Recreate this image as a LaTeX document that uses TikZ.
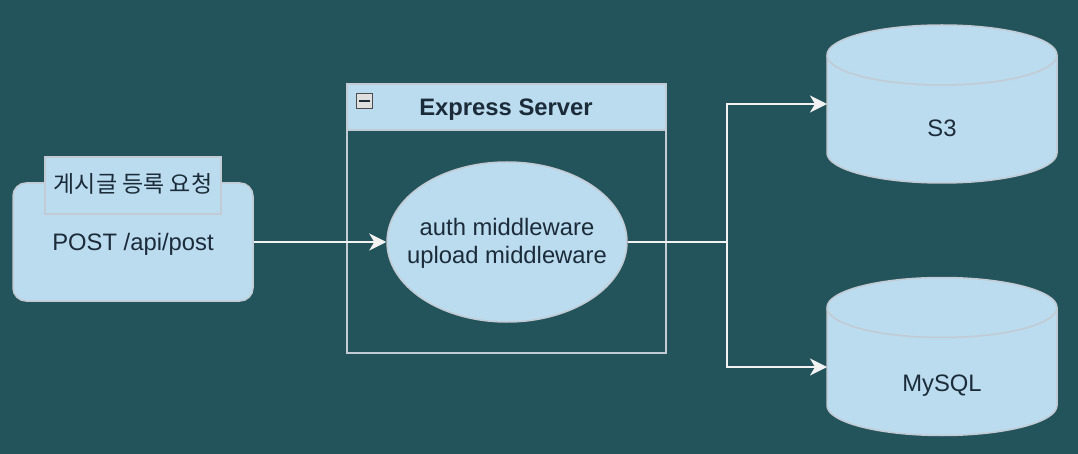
\documentclass[tikz,border=0pt]{standalone}
\usepackage{fontspec}
\setmainfont{Liberation Sans}
\newfontfamily\krfont{Noto Sans CJK KR}
\usetikzlibrary{shapes.geometric,arrows.meta,calc}
\definecolor{bgc}{HTML}{23535B}
\definecolor{fillc}{HTML}{BADCEE}
\definecolor{strokec}{HTML}{C2CAD3}
\definecolor{txtc}{HTML}{1C2B3A}
\definecolor{linec}{HTML}{F2F2F2}
\tikzset{
  shapebox/.style={draw=strokec, fill=fillc, line width=1.5pt, text=txtc},
  conn/.style={draw=linec, line width=2pt},
  arr/.style={conn, -{Stealth[length=17pt,width=17pt,inset=5pt]}},
  lbl/.style={text=txtc, font=\fontsize{23.8}{28}\selectfont, align=center, anchor=base, inner sep=0pt},
}
\begin{document}
\begin{tikzpicture}[x=1pt,y=-1pt]
\fill[bgc] (0,0) rectangle (1078,454);
\useasboundingbox (0,0) rectangle (1078,454);

% left box
\node[shapebox, rounded corners=13pt, minimum width=240pt, minimum height=118pt, inner sep=0pt] (req) at (133,242) {};
\node[shapebox, minimum width=176pt, minimum height=57pt, inner sep=0pt] (tab) at (133,185.5) {};
\node[lbl, font=\krfont\fontsize{23}{27}\selectfont] (tabtxt) at (133,193) {게시글 등록 요청};
\node[lbl] (reqtxt) at (133,251) {POST /api/post};

% container
\node[draw=strokec, line width=1.5pt, minimum width=319pt, minimum height=269pt, inner sep=0pt] (srv) at (506.5,218.5) {};
\node[shapebox, minimum width=319pt, minimum height=46pt, inner sep=0pt, anchor=north] (hdr) at (srv.north) {};
\node[lbl, font=\bfseries\fontsize{23.8}{28}\selectfont] (hdrtxt) at (506,116) {Express Server};
\node[draw=gray!60!black, fill=gray!25, line width=1.2pt, minimum width=16pt, minimum height=15pt, inner sep=0pt] (minus) at (364.5,101) {};
\draw[txtc, line width=2.2pt] ($(minus.center)+(-5.5,0)$) -- ($(minus.center)+(5.5,0)$);

% ellipse
\node[shapebox, ellipse, minimum width=240pt, minimum height=160pt, inner sep=0pt] (mw) at (507,242) {};
\node[lbl] (mwtxt1) at (507,236) {auth middleware};
\node[lbl] (mwtxt2) at (507,264) {upload middleware};

% cylinders
\foreach \nm/\cy/\txt/\ty in {s3/104/S3/137, mysql/356.5/MySQL/391}{
  \pgfmathsetmacro{\ctop}{\cy-49}
  \pgfmathsetmacro{\cbot}{\cy+49}
  \filldraw[fill=fillc, draw=strokec, line width=1.5pt] (827,\ctop) arc[start angle=180,end angle=360,x radius=115,y radius=30] -- (1057,\cbot) arc[start angle=0,end angle=180,x radius=115,y radius=30] -- cycle;
  \draw[strokec, line width=1.5pt] (827,\ctop) arc[start angle=180,end angle=0,x radius=115,y radius=30];
  \node[minimum width=230pt, minimum height=158pt, inner sep=0pt] (\nm) at (942,\cy) {};
  \node[lbl] (\nm txt) at (942,\ty) {\txt};
}

\coordinate (split) at (727,242);
\coordinate (s3in) at (827,104);
\coordinate (myin) at (827,367);

\draw[arr] (req.east) -- (mw.west);
\draw[conn] (mw.east) -- (split);
\draw[arr] (split) |- (s3in);
\draw[arr] (split) |- (myin);
\end{tikzpicture}
\end{document}
